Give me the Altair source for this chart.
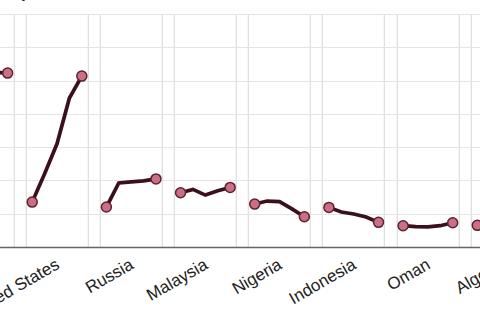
import altair as alt
import pandas as pd

countries = ["Australia", "United States", "Russia", "Malaysia", "Nigeria",
             "Indonesia", "Oman", "Algeria"]
years = [2019, 2020, 2021, 2022, 2023]

australia = [69.0, 90.0, 103.0, 105.0, 104.5]
united_states = [27.0, 44.0, 62.0, 89.5, 102.7]
russia = [24.0, 38.5, 39.1, 39.7, 40.9]
malaysia = [32.6, 34.6, 31.2, 33.8, 35.8]
nigeria = [25.8, 27.6, 27.3, 22.9, 18.2]
indonesia = [23.8, 21.0, 19.8, 18.0, 14.8]
oman = [12.8, 12.3, 12.1, 12.8, 14.6]
algeria = [13.0, 14.5, 15.0, 14.0, 13.5]

y_ticks = [0, 20, 40, 60, 80, 100, 120, 140]
y_max = 140

series = [australia, united_states, russia, malaysia, nigeria, indonesia, oman, algeria]
rows = []
for c, vals in zip(countries, series):
    for yr, v in zip(years, vals):
        rows.append({"country": c, "year": yr, "value": v})
df = pd.DataFrame(rows)

x_scale = alt.Scale(paddingInner=0.164, paddingOuter=0.082)

axis_labels = alt.Axis(
    title=None, orient="bottom", labelAngle=-30, labelAlign="right",
    labelBaseline="top", labelFontSize=17, labelFont="Liberation Sans",
    labelColor="#222", labelPadding=9, labelOffset=-3, bandPosition=0,
    ticks=False, grid=True, gridColor="#d6d6d6",
    domainColor="#666", domainWidth=1.5,
)
axis_ends = alt.Axis(
    title=None, orient="bottom", labels=False, ticks=False, domain=False,
    bandPosition=1, grid=True, gridColor="#d6d6d6",
)

y_enc = alt.Y(
    "value:Q",
    scale=alt.Scale(domain=[0, y_max], nice=False),
    axis=alt.Axis(title=None, values=y_ticks, labels=False, ticks=False,
                  domain=False, gridColor="#e4e4e4"),
)
x_off = alt.XOffset("year:O", scale=alt.Scale(type="point", padding=0.5))

line = alt.Chart(df).mark_line(color="#3a101c", strokeWidth=3.7).encode(
    x=alt.X("country:N", sort=countries, scale=x_scale, axis=axis_labels),
    xOffset=x_off,
    y=y_enc,
    detail="country:N",
    order="year:O",
)
pts = alt.Chart(df).transform_filter(
    alt.FieldOneOfPredicate(field="year", oneOf=[years[0], years[-1]])
).mark_circle(
    color="#c97086", stroke="#5e2233", strokeWidth=1.5, size=100, opacity=1
).encode(
    x=alt.X("country:N", sort=countries, scale=x_scale, axis=axis_ends),
    xOffset=x_off,
    y=y_enc,
)

chart = alt.layer(line, pts).resolve_axis(x="independent").properties(
    width=593.4,
    height=233,
    padding={"left": -54.25, "top": 14, "right": -59.15, "bottom": 73},
    autosize=alt.AutoSizeParams(type="none"),
    title=alt.Title(
        "LNG exports by country", anchor="start", frame="group", dx=-74,
        offset=1, baseline="alphabetic", fontSize=15, fontWeight="normal",
        font="Liberation Sans", color="#222",
    ),
).configure_view(stroke="#dcdcdc")

chart.save("out.html", embed_options={"renderer": "svg", "actions": False})
